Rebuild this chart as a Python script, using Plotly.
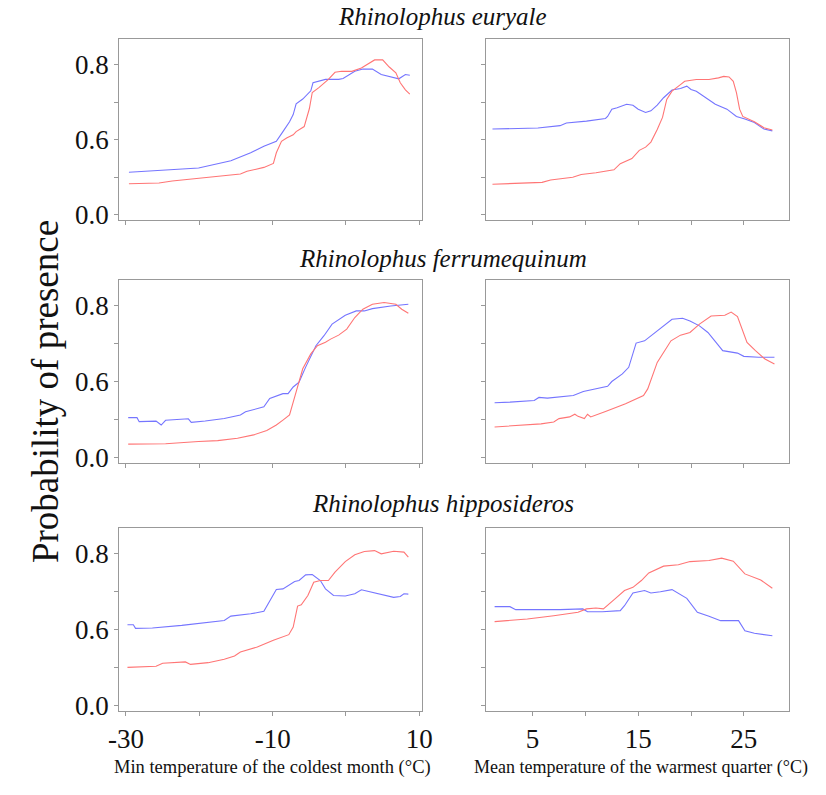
import plotly.graph_objects as go

# ---------------- data ----------------
species = ["Rhinolophus euryale", "Rhinolophus ferrumequinum", "Rhinolophus hipposideros"]

# Row 1 - left (min temperature of the coldest month)
r1l_blue_x = [-29.6, -20.1, -15.7, -13.0, -11.2, -9.5, -8.6, -7.7, -7.2, -6.8, -5.9, -4.8, -4.5, -2.8, -1.0, -0.4, 1.2, 2.3, 3.6, 4.8, 7.2, 8.1, 8.7]
r1l_blue_y = [0.226, 0.249, 0.287, 0.330, 0.365, 0.391, 0.443, 0.496, 0.534, 0.591, 0.617, 0.661, 0.704, 0.722, 0.722, 0.727, 0.765, 0.777, 0.777, 0.748, 0.725, 0.748, 0.744]
r1l_red_x = [-29.6, -25.5, -23.7, -21.0, -17.9, -15.2, -14.4, -13.5, -11.2, -9.9, -9.5, -8.8, -8.1, -7.2, -6.8, -5.7, -5.0, -4.6, -3.7, -2.4, -1.5, -0.6, 0.8, 2.1, 3.9, 5.0, 5.9, 6.8, 7.4, 8.1, 8.7]
r1l_red_y = [0.165, 0.169, 0.179, 0.190, 0.200, 0.212, 0.217, 0.231, 0.252, 0.273, 0.330, 0.391, 0.409, 0.426, 0.443, 0.470, 0.565, 0.652, 0.678, 0.722, 0.760, 0.765, 0.765, 0.783, 0.826, 0.826, 0.788, 0.757, 0.704, 0.666, 0.643]

# Row 1 - right (mean temperature of the warmest quarter)
r1r_blue_x = [1.2, 5.5, 7.6, 8.2, 10.1, 11.9, 12.1, 12.5, 13.0, 13.9, 14.5, 15.0, 15.7, 16.2, 16.8, 17.4, 18.2, 19.0, 19.6, 20.0, 20.5, 21.4, 22.3, 23.4, 24.3, 25.1, 26.0, 26.9, 27.7]
r1r_blue_y = [0.457, 0.462, 0.475, 0.489, 0.499, 0.513, 0.524, 0.563, 0.570, 0.589, 0.584, 0.563, 0.545, 0.554, 0.584, 0.624, 0.665, 0.673, 0.686, 0.668, 0.659, 0.624, 0.589, 0.563, 0.524, 0.510, 0.492, 0.457, 0.447]
r1r_red_x = [1.2, 3.9, 5.9, 6.7, 8.8, 9.6, 11.0, 12.7, 13.3, 14.4, 15.1, 15.7, 16.2, 16.8, 17.3, 17.7, 18.2, 19.0, 19.4, 20.5, 21.7, 22.6, 23.1, 23.6, 24.0, 24.3, 24.6, 24.9, 26.0, 26.9, 27.7]
r1r_red_y = [0.162, 0.169, 0.172, 0.185, 0.199, 0.214, 0.223, 0.239, 0.272, 0.299, 0.343, 0.360, 0.387, 0.454, 0.519, 0.615, 0.659, 0.694, 0.712, 0.721, 0.721, 0.730, 0.738, 0.735, 0.712, 0.651, 0.563, 0.524, 0.496, 0.464, 0.452]

# Row 2 - left
r2l_blue_x = [-29.7, -28.5, -28.2, -25.9, -25.2, -24.6, -21.5, -21.1, -19.2, -16.6, -14.4, -13.7, -11.2, -10.4, -8.6, -7.9, -7.2, -6.4, -5.5, -4.1, -3.0, -1.9, -0.1, 1.4, 2.5, 3.6, 6.1, 8.5]
r2l_blue_y = [0.210, 0.210, 0.189, 0.192, 0.171, 0.196, 0.204, 0.185, 0.192, 0.206, 0.224, 0.241, 0.267, 0.311, 0.337, 0.337, 0.372, 0.398, 0.477, 0.590, 0.643, 0.704, 0.751, 0.774, 0.774, 0.786, 0.800, 0.809]
r2l_red_x = [-29.7, -24.6, -20.1, -17.5, -14.8, -12.6, -10.8, -9.5, -8.6, -7.7, -6.8, -5.9, -4.8, -3.9, -2.8, -2.1, -1.0, 0.1, 1.2, 2.3, 3.6, 5.2, 6.8, 7.6, 8.5]
r2l_red_y = [0.070, 0.072, 0.084, 0.089, 0.101, 0.119, 0.142, 0.171, 0.197, 0.224, 0.346, 0.468, 0.547, 0.590, 0.608, 0.625, 0.646, 0.678, 0.739, 0.783, 0.809, 0.818, 0.809, 0.783, 0.762]

# Row 2 - right
r2r_blue_x = [1.4, 2.85, 5.15, 5.6, 6.4, 8.85, 9.8, 12.1, 12.5, 13.5, 14.1, 14.8, 15.6, 16.4, 17.3, 18.2, 19.2, 19.9, 20.8, 21.6, 22.5, 23.0, 24.4, 25.0, 26.4, 27.9]
r2r_blue_y = [0.289, 0.292, 0.301, 0.317, 0.313, 0.327, 0.348, 0.376, 0.401, 0.441, 0.476, 0.604, 0.616, 0.651, 0.695, 0.730, 0.735, 0.721, 0.695, 0.660, 0.599, 0.564, 0.551, 0.534, 0.529, 0.529]
r2r_red_x = [1.4, 5.8, 7.0, 7.5, 8.5, 9.0, 9.3, 9.9, 10.2, 10.5, 11.9, 13.8, 15.5, 15.9, 16.8, 18.1, 19.0, 19.9, 20.8, 21.9, 23.2, 23.8, 24.4, 25.3, 26.1, 27.0, 27.9]
r2r_red_y = [0.161, 0.177, 0.187, 0.205, 0.214, 0.228, 0.217, 0.205, 0.228, 0.214, 0.243, 0.284, 0.327, 0.362, 0.502, 0.616, 0.646, 0.660, 0.704, 0.747, 0.751, 0.768, 0.744, 0.607, 0.564, 0.520, 0.494]

# Row 3 - left
r3l_blue_x = [-29.8, -29.0, -28.7, -26.4, -22.4, -18.8, -16.6, -15.7, -13.0, -11.2, -10.6, -9.5, -8.6, -7.0, -6.4, -5.5, -4.6, -3.5, -2.8, -1.7, -0.1, 1.2, 2.1, 3.4, 5.0, 6.5, 7.4, 7.9, 8.5]
r3l_blue_y = [0.425, 0.425, 0.406, 0.408, 0.422, 0.436, 0.448, 0.471, 0.483, 0.496, 0.536, 0.612, 0.615, 0.654, 0.659, 0.689, 0.691, 0.659, 0.615, 0.580, 0.577, 0.589, 0.610, 0.598, 0.580, 0.570, 0.575, 0.589, 0.587]
r3l_red_x = [-29.8, -25.9, -25.0, -21.9, -21.2, -18.8, -16.6, -15.2, -14.4, -12.1, -9.9, -7.8, -7.2, -6.6, -6.1, -5.2, -4.4, -3.5, -2.4, -1.5, -0.1, 1.2, 2.5, 3.9, 4.8, 6.5, 7.9, 8.5]
r3l_red_y = [0.200, 0.206, 0.222, 0.229, 0.216, 0.225, 0.243, 0.260, 0.281, 0.308, 0.343, 0.373, 0.413, 0.524, 0.531, 0.580, 0.650, 0.659, 0.659, 0.703, 0.759, 0.795, 0.812, 0.817, 0.800, 0.814, 0.809, 0.782]

# Row 3 - right
r3r_blue_x = [1.4, 2.85, 3.4, 7.6, 9.75, 10.2, 11.6, 13.3, 13.7, 14.5, 15.6, 16.2, 17.1, 18.2, 19.6, 20.6, 21.7, 22.8, 24.5, 25.1, 26.0, 27.7]
r3r_blue_y = [0.521, 0.521, 0.505, 0.505, 0.509, 0.494, 0.494, 0.500, 0.526, 0.593, 0.606, 0.593, 0.600, 0.611, 0.565, 0.491, 0.470, 0.447, 0.447, 0.394, 0.380, 0.367]
r3r_red_x = [1.4, 4.5, 7.0, 9.3, 10.1, 11.0, 11.7, 12.2, 12.8, 13.7, 14.5, 15.3, 16.0, 17.4, 18.8, 19.9, 21.7, 22.9, 24.0, 25.1, 25.9, 26.6, 27.7]
r3r_red_y = [0.442, 0.456, 0.473, 0.491, 0.509, 0.514, 0.509, 0.535, 0.562, 0.606, 0.623, 0.659, 0.699, 0.735, 0.742, 0.759, 0.765, 0.777, 0.761, 0.694, 0.676, 0.662, 0.618]

y_tickvals = [0.0, 0.2, 0.4, 0.6, 0.8]
y_ticktext = ["0.0", "", "0.6", "", "0.8"]
xl_tickvals = [-30, -20, -10, 0, 10]
xl_ticktext = ["-30", "", "-10", "", "10"]
xr_tickvals = [5, 10, 15, 20, 25]
xr_ticktext = ["5", "", "15", "", "25"]

x_title_left = "Min temperature of the coldest month (°C)"
x_title_right = "Mean temperature of the warmest quarter (°C)"
y_title = "Probability of presence"

# ---------------- figure ----------------
BLUE = "#7575ff"
RED = "#ff7575"
FONT = "Liberation Serif, Times New Roman, serif"
TXT = "#111111"

panels = [
    (r1l_blue_x, r1l_blue_y, r1l_red_x, r1l_red_y),
    (r1r_blue_x, r1r_blue_y, r1r_red_x, r1r_red_y),
    (r2l_blue_x, r2l_blue_y, r2l_red_x, r2l_red_y),
    (r2r_blue_x, r2r_blue_y, r2r_red_x, r2r_red_y),
    (r3l_blue_x, r3l_blue_y, r3l_red_x, r3l_red_y),
    (r3r_blue_x, r3r_blue_y, r3r_red_x, r3r_red_y),
]

W, H = 826, 795
xdom_left = [111 / W, 422 / W]
xdom_right = [487 / W, 798 / W]
row_px = [(40, 223), (284, 469), (535, 720)]
ydoms = [[1 - b / H, 1 - t / H] for (t, b) in row_px]

fig = go.Figure()
layout = {}
for i, (bx, by, rx, ry) in enumerate(panels):
    n = i + 1
    xa = "x" if n == 1 else f"x{n}"
    ya = "y" if n == 1 else f"y{n}"
    fig.add_trace(go.Scatter(x=bx, y=by, mode="lines", line=dict(color=BLUE, width=1.1),
                             xaxis=xa, yaxis=ya, showlegend=False, hoverinfo="skip"))
    fig.add_trace(go.Scatter(x=rx, y=ry, mode="lines", line=dict(color=RED, width=1.1),
                             xaxis=xa, yaxis=ya, showlegend=False, hoverinfo="skip"))
    row = i // 2
    left = (i % 2 == 0)
    xkey = "xaxis" if n == 1 else f"xaxis{n}"
    ykey = "yaxis" if n == 1 else f"yaxis{n}"
    layout[xkey] = dict(
        domain=xdom_left if left else xdom_right,
        anchor=ya,
        range=[-30.93, 10.4] if left else [0.55, 29.25],
        tickmode="array",
        tickvals=xl_tickvals if left else xr_tickvals,
        ticktext=xl_ticktext if left else xr_ticktext,
        showticklabels=(row == 2),
        ticks="outside", ticklen=4, tickcolor="#999999", tickwidth=1,
        showline=True, linecolor="#999999", linewidth=1, mirror=True,
        showgrid=False, zeroline=False,
        tickfont=dict(family=FONT, size=27, color=TXT),
    )
    layout[ykey] = dict(
        domain=ydoms[row],
        anchor=xa,
        range=[-0.03, 0.935],
        tickmode="array",
        tickvals=y_tickvals,
        ticktext=y_ticktext,
        showticklabels=left,
        ticks="outside", ticklen=4, tickcolor="#999999", tickwidth=1,
        showline=True, linecolor="#999999", linewidth=1, mirror=True,
        showgrid=False, zeroline=False,
        tickfont=dict(family=FONT, size=27, color=TXT),
    )

annotations = []
title_y_px = [17, 262, 510]
for name, ty in zip(species, title_y_px):
    annotations.append(dict(text=f"<i>{name}</i>", x=443 / W, y=1 - ty / H, xref="paper", yref="paper",
                            showarrow=False, xanchor="center", yanchor="middle",
                            font=dict(family=FONT, size=25, color=TXT)))
annotations.append(dict(text=y_title, x=35 / W, y=1 - 397 / H, xref="paper", yref="paper",
                        showarrow=False, textangle=-90, xanchor="center", yanchor="middle",
                        font=dict(family=FONT, size=37, color=TXT)))
annotations.append(dict(text=x_title_left, x=268 / W, y=1 - 777 / H, xref="paper", yref="paper",
                        showarrow=False, xanchor="center", yanchor="middle",
                        font=dict(family=FONT, size=18.5, color=TXT)))
annotations.append(dict(text=x_title_right, x=646 / W, y=1 - 777 / H, xref="paper", yref="paper",
                        showarrow=False, xanchor="center", yanchor="middle",
                        font=dict(family=FONT, size=18, color=TXT)))

fig.update_layout(
    width=W, height=H,
    margin=dict(l=0, r=0, t=0, b=0),
    paper_bgcolor="white", plot_bgcolor="white",
    annotations=annotations,
    **layout,
)

fig.write_html("out.html")
